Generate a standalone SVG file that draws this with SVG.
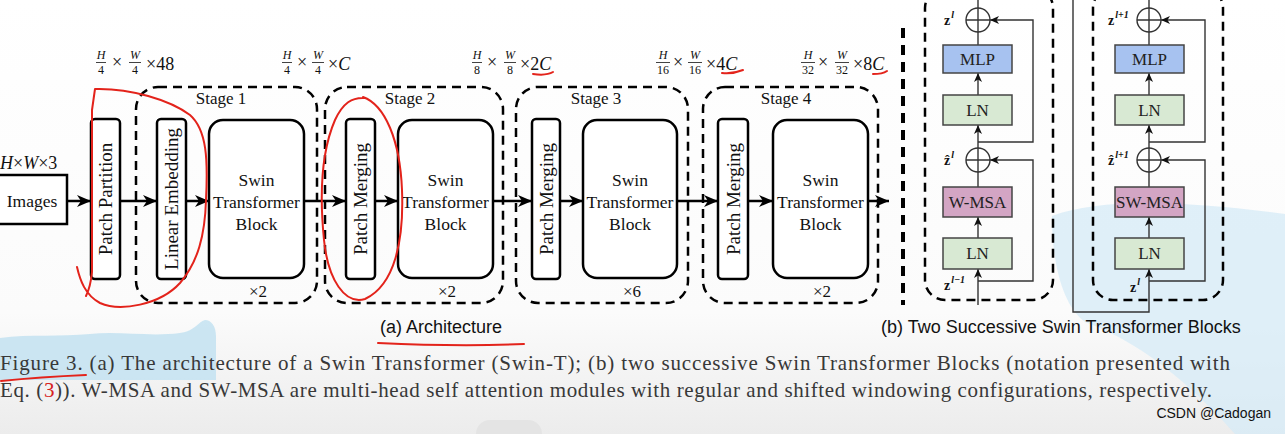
<svg xmlns="http://www.w3.org/2000/svg" width="1285" height="434" viewBox="0 0 1285 434">
<defs>
<linearGradient id="bg" x1="0" y1="0" x2="0" y2="1">
<stop offset="0" stop-color="#ffffff"/>
<stop offset="0.72" stop-color="#fbfbfb"/>
<stop offset="1" stop-color="#ececec"/>
</linearGradient>
<marker id="ah" markerUnits="userSpaceOnUse" markerWidth="14" markerHeight="12" refX="14" refY="6" orient="auto">
<path d="M0,0 L14,6 L0,12 L4,6 Z" fill="#000"/>
</marker>
<marker id="sh" markerUnits="userSpaceOnUse" markerWidth="9" markerHeight="8" refX="9" refY="4" orient="auto">
<path d="M0,0 L9,4 L0,8 L2.5,4 Z" fill="#111"/>
</marker>
<style>
.serif{font-family:"Liberation Serif","Times New Roman",serif;fill:#111}
.sans{font-family:"Liberation Sans",Arial,sans-serif;fill:#111}
.it{font-style:italic}
.box{fill:#fff;stroke:#000;stroke-width:2.5}
.stage{fill:none;stroke:#000;stroke-width:2.5;stroke-dasharray:9 6}
.flow{stroke:#000;stroke-width:2.5;fill:none;marker-end:url(#ah)}
.rot{font-size:19px;text-anchor:middle}
.stb{font-size:17.5px;text-anchor:middle}
.lbl{font-size:17px;text-anchor:middle}
.frac{font-size:12px;text-anchor:middle}
.fbar{stroke:#111;stroke-width:0.8}
.big{font-size:18px}
.bl{fill:#a7c2f0;stroke:#444;stroke-width:1.5}
.gr{fill:#d8e9d3;stroke:#444;stroke-width:1.5}
.pk{fill:#d3a5c4;stroke:#444;stroke-width:1.5}
.bt{font-size:17px;text-anchor:middle;fill:#222}
.wire{stroke:#333;stroke-width:1.4;fill:none}
.warr{stroke:#333;stroke-width:1.4;fill:none;marker-end:url(#sh)}
.circ{fill:#fff;stroke:#333;stroke-width:1.4}
.zl{font-size:14px;font-weight:bold}
.sup{font-size:10px;font-style:italic}
.red{stroke:#e3231b;stroke-width:2;fill:none;stroke-linecap:round;stroke-linejoin:round}
.cap{font-size:21px;fill:#383838}
</style>
</defs>

<rect x="0" y="0" width="1285" height="434" fill="url(#bg)"/>
<rect x="476" y="420" width="66" height="30" rx="14" fill="#e4e4e4"/>

<!-- light-blue highlight washes -->
<path d="M0,338 C30,334 60,337 90,334 C120,331 150,337 180,333 C195,331 198,322 205,320 C211,320 216,326 216,336 L216,380 L0,380 Z" fill="#c3e2f1" opacity="0.85"/>
<path d="M1052,216 C1100,198 1180,200 1285,214 L1285,434 L1235,434 C1205,400 1150,345 1085,322 C1062,305 1052,262 1052,216 Z" fill="#d6ebf7" opacity="0.75"/>

<!-- (a) Architecture -->
<g id="input-label"><text class="serif it big" x="0" y="169">H<tspan font-style="normal">×</tspan>W<tspan font-style="normal">×3</tspan></text></g>

<g id="images"><rect class="box" x="-3" y="175" width="70" height="49"/><text class="serif" font-size="17.5" x="32" y="207" text-anchor="middle">Images</text></g>

<g id="patch-partition"><rect class="box" x="91" y="119" width="29" height="160" rx="4"/><text class="serif rot" transform="translate(111.5,199) rotate(-90)">Patch Partition</text></g>

<g id="stage1"><rect class="stage" x="136" y="87" width="181" height="216" rx="22"/><text class="serif lbl" x="221" y="104">Stage 1</text><text class="serif lbl" x="258" y="297">×2</text></g>
<g id="linear-embedding"><rect class="box" x="157" y="119" width="29" height="160" rx="4"/><text class="serif rot" transform="translate(178,199) rotate(-90)">Linear Embedding</text></g>
<g id="stb1"><rect class="box" x="209" y="120" width="95" height="158" rx="14"/><text class="serif stb" x="256.5" y="186">Swin</text><text class="serif stb" x="256.5" y="208">Transformer</text><text class="serif stb" x="256.5" y="230">Block</text></g>

<g id="stage2"><rect class="stage" x="325" y="87" width="178" height="216" rx="22"/><text class="serif lbl" x="410" y="104">Stage 2</text><text class="serif lbl" x="447" y="297">×2</text></g>
<g id="patch-merging2"><rect class="box" x="346" y="119" width="29" height="160" rx="4"/><text class="serif rot" transform="translate(367,199) rotate(-90)">Patch Merging</text></g>
<g id="stb2"><rect class="box" x="398" y="120" width="95" height="158" rx="14"/><text class="serif stb" x="445.5" y="186">Swin</text><text class="serif stb" x="445.5" y="208">Transformer</text><text class="serif stb" x="445.5" y="230">Block</text></g>

<g id="stage3"><rect class="stage" x="516" y="87" width="172" height="216" rx="22"/><text class="serif lbl" x="596" y="104">Stage 3</text><text class="serif lbl" x="632" y="297">×6</text></g>
<g id="patch-merging3"><rect class="box" x="532" y="119" width="28" height="160" rx="4"/><text class="serif rot" transform="translate(552.5,199) rotate(-90)">Patch Merging</text></g>
<g id="stb3"><rect class="box" x="583" y="120" width="94" height="158" rx="14"/><text class="serif stb" x="630" y="186">Swin</text><text class="serif stb" x="630" y="208">Transformer</text><text class="serif stb" x="630" y="230">Block</text></g>

<g id="stage4"><rect class="stage" x="703" y="87" width="175" height="216" rx="22"/><text class="serif lbl" x="786" y="104">Stage 4</text><text class="serif lbl" x="822" y="297">×2</text></g>
<g id="patch-merging4"><rect class="box" x="718" y="119" width="30" height="160" rx="4"/><text class="serif rot" transform="translate(739.5,199) rotate(-90)">Patch Merging</text></g>
<g id="stb4"><rect class="box" x="773" y="120" width="95" height="158" rx="14"/><text class="serif stb" x="820.5" y="186">Swin</text><text class="serif stb" x="820.5" y="208">Transformer</text><text class="serif stb" x="820.5" y="230">Block</text></g>

<!-- dimension formulas -->
<g id="dims">
<g><text class="serif frac it" x="101" y="59">H</text><line class="fbar" x1="96" y1="62.5" x2="106" y2="62.5"/><text class="serif frac" x="101" y="74">4</text><text class="serif big" x="112" y="68">×</text><text class="serif frac it" x="135" y="59">W</text><line class="fbar" x1="129" y1="62.5" x2="141" y2="62.5"/><text class="serif frac" x="135" y="74">4</text><text class="serif big" x="146" y="70">×48</text></g>
<g><text class="serif frac it" x="287" y="59">H</text><line class="fbar" x1="282" y1="62.5" x2="292" y2="62.5"/><text class="serif frac" x="287" y="74">4</text><text class="serif big" x="297" y="68">×</text><text class="serif frac it" x="318" y="59">W</text><line class="fbar" x1="312" y1="62.5" x2="324" y2="62.5"/><text class="serif frac" x="318" y="74">4</text><text class="serif big" x="328" y="70">×<tspan font-style="italic">C</tspan></text></g>
<g><text class="serif frac it" x="477" y="59">H</text><line class="fbar" x1="472" y1="62.5" x2="482" y2="62.5"/><text class="serif frac" x="477" y="74">8</text><text class="serif big" x="487" y="68">×</text><text class="serif frac it" x="510" y="59">W</text><line class="fbar" x1="504" y1="62.5" x2="516" y2="62.5"/><text class="serif frac" x="510" y="74">8</text><text class="serif big" x="520" y="70">×2<tspan font-style="italic">C</tspan></text></g>
<g><text class="serif frac it" x="663" y="59">H</text><line class="fbar" x1="656" y1="62.5" x2="670" y2="62.5"/><text class="serif frac" x="663" y="74">16</text><text class="serif big" x="673" y="68">×</text><text class="serif frac it" x="695" y="59">W</text><line class="fbar" x1="688" y1="62.5" x2="702" y2="62.5"/><text class="serif frac" x="695" y="74">16</text><text class="serif big" x="706" y="70">×4<tspan font-style="italic">C</tspan></text></g>
<g><text class="serif frac it" x="808" y="59">H</text><line class="fbar" x1="801" y1="62.5" x2="815" y2="62.5"/><text class="serif frac" x="808" y="74">32</text><text class="serif big" x="818" y="68">×</text><text class="serif frac it" x="842" y="59">W</text><line class="fbar" x1="835" y1="62.5" x2="849" y2="62.5"/><text class="serif frac" x="842" y="74">32</text><text class="serif big" x="853" y="70">×8<tspan font-style="italic">C</tspan></text></g>
</g>

<g id="connectors">
<line class="flow" x1="67" y1="201" x2="91" y2="201"/>
<line class="flow" x1="120" y1="201" x2="157" y2="201"/>
<line class="flow" x1="186" y1="201" x2="209" y2="201"/>
<line class="flow" x1="304" y1="201" x2="346" y2="201"/>
<line class="flow" x1="375" y1="201" x2="398" y2="201"/>
<line class="flow" x1="493" y1="201" x2="532" y2="201"/>
<line class="flow" x1="560" y1="201" x2="583" y2="201"/>
<line class="flow" x1="677" y1="201" x2="718" y2="201"/>
<line class="flow" x1="748" y1="201" x2="773" y2="201"/>
<line class="flow" x1="868" y1="201" x2="889" y2="201"/>
<!-- block (b) wiring: left block -->
<line class="warr" x1="978" y1="305" x2="978" y2="269"/>
<line class="warr" x1="978" y1="238" x2="978" y2="217"/>
<line class="wire" x1="978" y1="187" x2="978" y2="172"/>
<line class="warr" x1="978" y1="148" x2="978" y2="125"/>
<line class="warr" x1="978" y1="95" x2="978" y2="73"/>
<line class="wire" x1="978" y1="45" x2="978" y2="32"/>
<line class="wire" x1="978" y1="8" x2="978" y2="0"/>
<polyline class="warr" points="978,281 1033,281 1033,160 990,160"/>
<polyline class="warr" points="978,142 1033,142 1033,20 990,20"/>
<!-- right block -->
<polyline class="warr" points="1073,0 1073,312 1149,312 1149,269"/>
<line class="warr" x1="1149" y1="238" x2="1149" y2="217"/>
<line class="wire" x1="1149" y1="187" x2="1149" y2="172"/>
<line class="warr" x1="1149" y1="148" x2="1149" y2="125"/>
<line class="warr" x1="1149" y1="95" x2="1149" y2="73"/>
<line class="wire" x1="1149" y1="45" x2="1149" y2="32"/>
<line class="wire" x1="1149" y1="8" x2="1149" y2="0"/>
<polyline class="warr" points="1149,281 1205,281 1205,160 1161,160"/>
<polyline class="warr" points="1149,142 1205,142 1205,20 1161,20"/>
</g>

<!-- separator -->
<line x1="903" y1="28" x2="903" y2="305" stroke="#000" stroke-width="4" stroke-dasharray="10 7"/>

<!-- (b) left block -->
<g id="block-wmsa">
<rect class="stage" x="925" y="-12" width="128" height="312" rx="20"/>
<g id="add1"><circle class="circ" cx="978" cy="20" r="12"/><path class="wire" d="M966,20 H990 M978,8 V32"/></g>
<g id="mlp1"><rect class="bl" x="943" y="45" width="69" height="28"/><text class="serif bt" x="977.5" y="65">MLP</text></g>
<g id="ln1b"><rect class="gr" x="943" y="95" width="69" height="30"/><text class="serif bt" x="977.5" y="116">LN</text></g>
<g id="add2"><circle class="circ" cx="978" cy="160" r="12"/><path class="wire" d="M966,160 H990 M978,148 V172"/></g>
<g id="wmsa"><rect class="pk" x="943" y="187" width="69" height="30"/><text class="serif bt" x="977.5" y="208" font-size="16.5">W-MSA</text></g>
<g id="ln1a"><rect class="gr" x="943" y="238" width="69" height="31"/><text class="serif bt" x="977.5" y="259">LN</text></g>
<text class="serif zl" x="944" y="25">z<tspan class="sup" dx="1" dy="-7">l</tspan></text>
<text class="serif zl" x="944" y="165">ẑ<tspan class="sup" dx="1" dy="-7">l</tspan></text>
<text class="serif zl" x="944" y="290">z<tspan class="sup" dx="1" dy="-7">l−1</tspan></text>
</g>

<!-- (b) right block -->
<g id="block-swmsa">
<rect class="stage" x="1093" y="-12" width="130" height="312" rx="20"/>
<g id="add3"><circle class="circ" cx="1149" cy="20" r="12"/><path class="wire" d="M1137,20 H1161 M1149,8 V32"/></g>
<g id="mlp2"><rect class="bl" x="1115" y="45" width="69" height="28"/><text class="serif bt" x="1149.5" y="65">MLP</text></g>
<g id="ln2b"><rect class="gr" x="1115" y="95" width="69" height="30"/><text class="serif bt" x="1149.5" y="116">LN</text></g>
<g id="add4"><circle class="circ" cx="1149" cy="160" r="12"/><path class="wire" d="M1137,160 H1161 M1149,148 V172"/></g>
<g id="swmsa"><rect class="pk" x="1115" y="187" width="69" height="30"/><text class="serif bt" x="1149.5" y="208" font-size="16.5">SW-MSA</text></g>
<g id="ln2a"><rect class="gr" x="1115" y="238" width="69" height="31" fill="#c4e2da"/><text class="serif bt" x="1149.5" y="259">LN</text></g>
<text class="serif zl" x="1108" y="25">z<tspan class="sup" dx="1" dy="-7">l+1</tspan></text>
<text class="serif zl" x="1108" y="165">ẑ<tspan class="sup" dx="1" dy="-7">l+1</tspan></text>
<text class="serif zl" x="1130" y="292">z<tspan class="sup" dx="1" dy="-7">l</tspan></text>
</g>

<!-- sub-captions -->
<text class="sans" font-size="18" x="380" y="333">(a) Architecture</text>
<text class="sans" font-size="18" x="881" y="333">(b) Two Successive Swin Transformer Blocks</text>

<!-- caption -->
<text class="serif cap" x="0" y="370" textLength="1230" lengthAdjust="spacing">Figure 3. (a) The architecture of a Swin Transformer (Swin-T); (b) two successive Swin Transformer Blocks (notation presented with</text>
<text class="serif cap" x="0" y="397" textLength="1212" lengthAdjust="spacing">Eq. (<tspan fill="#d62020">3</tspan>)). W-MSA and SW-MSA are multi-head self attention modules with regular and shifted windowing configurations, respectively.</text>

<text class="sans" font-size="14" x="1271" y="418" text-anchor="end" fill="#9a9a9a">CSDN @Cadogan</text>

<!-- red hand annotations -->
<g id="annotations">
<path class="red" d="M77,267 C80,280 85,295 100,303 C120,312 160,305 180,283 C198,262 205,235 206,200 C208,160 207,130 190,115 C170,100 130,88 95,89 L92,110 L92,272 C91,282 89,290 86,296"/>
<path class="red" d="M363,97 C385,105 400,140 402,190 C404,240 395,285 365,299 C345,305 328,280 324,240 C319,190 322,150 335,120 C343,103 352,97 365,98"/>
<path class="red" d="M533,74 C540,75 548,75 553,72"/>
<path class="red" d="M722,73 C730,74 738,72 743,70"/>
<path class="red" d="M873,74 C878,74 884,73 887,71"/>
<path class="red" d="M378,343 C420,345 480,346 524,344"/>
<path class="red" d="M1,381 Q40,377 86,375"/>
</g>
</svg>
